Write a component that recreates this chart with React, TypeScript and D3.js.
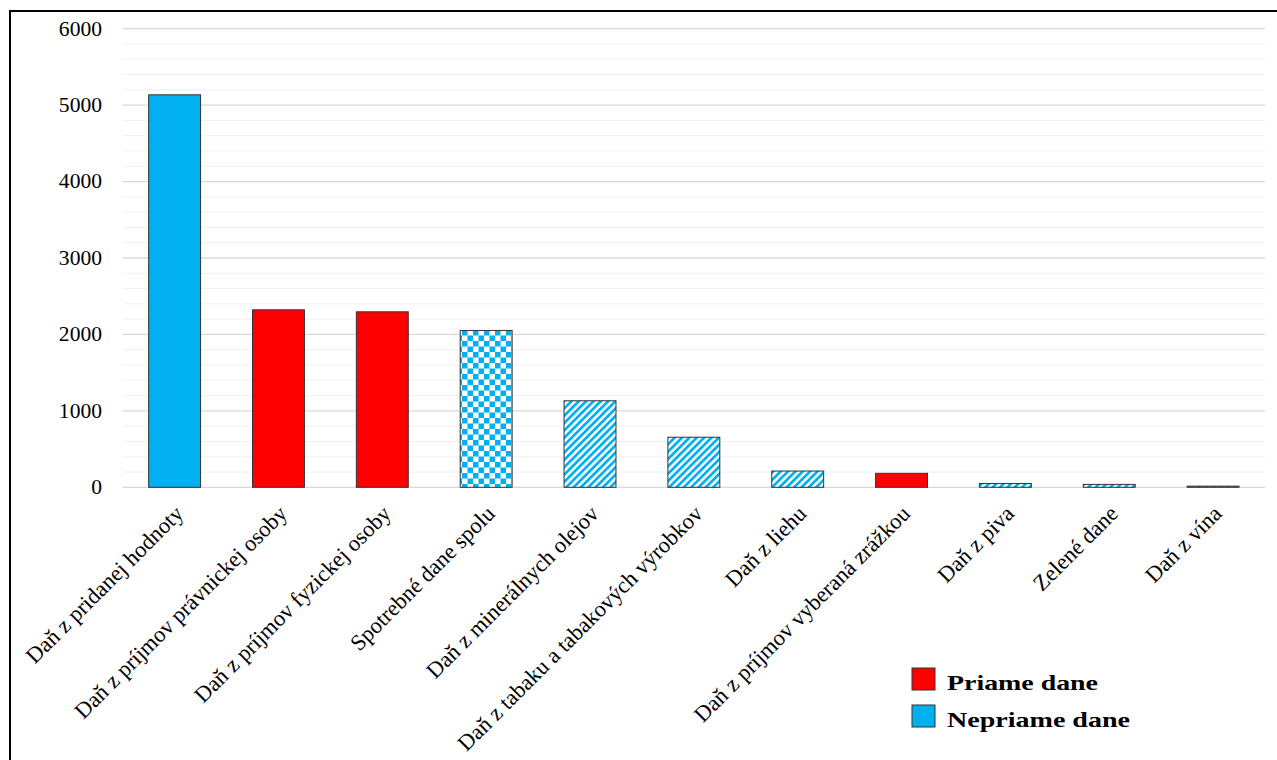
import React from "react";
import * as d3 from "d3";

// Tax revenue by category (mil. EUR)
const categories = [
  "Daň z pridanej hodnoty",
  "Daň z príjmov právnickej osoby",
  "Daň z príjmov fyzickej osoby",
  "Spotrebné dane spolu",
  "Daň z minerálnych olejov",
  "Daň z tabaku a tabakových výrobkov",
  "Daň z liehu",
  "Daň z príjmov vyberaná zrážkou",
  "Daň z piva",
  "Zelené dane",
  "Daň z vína",
];
const values = [5135, 2322, 2296, 2052, 1132, 655, 213, 183, 50, 38, 15];
// kind of tax: direct, indirect, indirect total of excise, individual excise duty
const kinds = [
  "indirect",
  "direct",
  "direct",
  "exciseTotal",
  "excise",
  "excise",
  "excise",
  "direct",
  "excise",
  "excise",
  "excise",
];
const yTicks = [0, 1000, 2000, 3000, 4000, 5000, 6000];
const legendLabels = ["Priame dane", "Nepriame dane"];

const W = 1277;
const H = 760;
const RED = "#FF0000";
const BLUE = "#00B0F0";
const SERIF = "'Liberation Serif', 'Times New Roman', serif";

const fillFor = (k: string) =>
  k === "direct"
    ? RED
    : k === "indirect"
    ? BLUE
    : k === "exciseTotal"
    ? "url(#checker)"
    : "url(#stripes)";

export default function App() {
  const x = d3
    .scaleBand<string>()
    .domain(categories)
    .range([122.7, 1265])
    .paddingInner(0.5)
    .paddingOuter(0.25);
  const y = d3.scaleLinear().domain([0, 6000]).range([487.3, 28.7]);
  const minor = d3.range(0, 6001, 200).filter((v) => v % 1000 !== 0);

  return (
    <svg
      width={W}
      height={H}
      style={{ position: "absolute", left: 0, top: 0, background: "#fff" }}
    >
      <defs>
        <pattern id="checker" width={11} height={11} patternUnits="userSpaceOnUse">
          <rect width={11} height={11} fill="#fff" />
          <rect width={5.5} height={5.5} fill={BLUE} />
          <rect x={5.5} y={5.5} width={5.5} height={5.5} fill={BLUE} />
        </pattern>
        <pattern
          id="stripes"
          width={5.2}
          height={10}
          patternUnits="userSpaceOnUse"
          patternTransform="rotate(45)"
        >
          <rect width={5.2} height={10} fill="#fff" />
          <rect width={2.7} height={10} fill={BLUE} />
        </pattern>
      </defs>

      <rect x={0} y={0} width={W} height={H} fill="#fff" />
      <rect x={10} y={11} width={W + 20} height={H + 20} fill="none" stroke="#000" strokeWidth={2} />

      {/* gridlines */}
      {minor.map((v) => (
        <line key={"m" + v} x1={122.7} x2={1265} y1={y(v)} y2={y(v)} stroke="#f0f0f0" strokeWidth={1} />
      ))}
      {yTicks.map((v) => (
        <line key={"g" + v} x1={122.7} x2={1265} y1={y(v)} y2={y(v)} stroke="#d9d9d9" strokeWidth={1.3} />
      ))}

      {/* y axis labels, slightly widened */}
      {yTicks.map((v) => (
        <text
          key={"t" + v}
          transform={`translate(102, ${y(v) + 6.8}) scale(1.08, 1)`}
          textAnchor="end"
          fontFamily={SERIF}
          fontSize={20}
          fill="#000"
        >
          {v}
        </text>
      ))}

      {/* bars */}
      {categories.map((c, i) => (
        <rect
          key={c}
          x={x(c)}
          y={y(values[i])}
          width={x.bandwidth()}
          height={y(0) - y(values[i])}
          fill={fillFor(kinds[i])}
          stroke="#333"
          strokeWidth={1}
        />
      ))}

      {/* category labels */}
      {categories.map((c) => {
        const cx = (x(c) as number) + x.bandwidth() / 2 + 10;
        const cy = 515;
        return (
          <text
            key={"l" + c}
            x={cx}
            y={cy}
            textAnchor="end"
            transform={`rotate(-45 ${cx} ${cy})`}
            fontFamily={SERIF}
            fontSize={22.5}
            fill="#000"
          >
            {c}
          </text>
        );
      })}

      {/* legend */}
      {legendLabels.map((l, i) => (
        <g key={l} transform={`translate(912, ${668 + i * 37})`}>
          <rect width={23} height={22} fill={i === 0 ? RED : BLUE} stroke="#333" strokeWidth={1} />
          <text
            x={35}
            y={22}
            fontFamily={SERIF}
            fontWeight="bold"
            fontSize={22}
            fill="#000"
            textLength={i === 0 ? 151 : 183}
            lengthAdjust="spacingAndGlyphs"
          >
            {l}
          </text>
        </g>
      ))}
    </svg>
  );
}
